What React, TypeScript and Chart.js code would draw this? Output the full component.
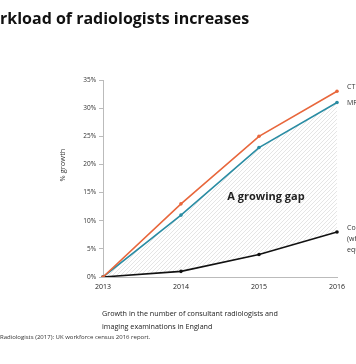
import React, { useEffect, useRef } from "react";
import { Chart, registerables } from "chart.js";

Chart.register(...registerables);

const years = ["2013", "2014", "2015", "2016"];
const ctGrowth = [0, 13, 25, 33];
const mriGrowth = [0, 11, 23, 31];
const consultantGrowth = [0, 1, 4, 8];
const yTicks = [0, 5, 10, 15, 20, 25, 30, 35];

const FONT = "'Open Sans', 'Liberation Sans', sans-serif";

function makeHatch(): CanvasPattern | string {
  const c = document.createElement("canvas");
  c.width = 4;
  c.height = 4;
  const g = c.getContext("2d");
  if (!g) return "#eee";
  g.fillStyle = "#ffffff";
  g.fillRect(0, 0, 4, 4);
  g.strokeStyle = "#dedede";
  g.lineWidth = 0.8;
  g.beginPath();
  g.moveTo(0, 4);
  g.lineTo(4, 0);
  g.moveTo(-1, 1);
  g.lineTo(1, -1);
  g.moveTo(3, 5);
  g.lineTo(5, 3);
  g.stroke();
  const p = g.createPattern(c, "repeat");
  return p || "#eee";
}

const textPlugin = {
  id: "annotText",
  afterDraw(chart: any) {
    const ctx = chart.ctx;
    ctx.save();
    ctx.fillStyle = "#111";
    ctx.textBaseline = "alphabetic";
    ctx.textAlign = "left";
    ctx.font = `bold 16px ${FONT}`;
    const title = "Workload of radiologists increases";
    const full = ctx.measureText(title).width;
    const rest = ctx.measureText("rkload of radiologists increases").width;
    ctx.fillText(title, 0 - (full - rest), 24);

    ctx.font = `bold 11px ${FONT}`;
    ctx.fillStyle = "#222";
    ctx.textAlign = "center";
    ctx.fillText("A growing gap", 266, 200);

    ctx.font = `7px ${FONT}`;
    ctx.fillStyle = "#333";
    ctx.textAlign = "left";
    const y = chart.scales.y;
    const x = chart.scales.x;
    const rx = x.getPixelForValue(3) + 10;
    ctx.fillText("CT", rx, y.getPixelForValue(ctGrowth[3]) - 2);
    ctx.fillText("MRI", rx, y.getPixelForValue(mriGrowth[3]) + 2);
    const cy = y.getPixelForValue(consultantGrowth[3]) - 2;
    ctx.fillText("Consultant radiologists", rx, cy);
    ctx.fillText("(whole-time", rx, cy + 11);
    ctx.fillText("equivalent)", rx, cy + 22);

    ctx.font = `7.2px ${FONT}`;
    ctx.fillStyle = "#222";
    ctx.fillText("Growth in the number of consultant radiologists and", 102, 316);
    ctx.fillText("imaging examinations in England", 102, 329);

    ctx.font = `6px ${FONT}`;
    ctx.fillStyle = "#333";
    ctx.fillText("Radiologists (2017): UK workforce census 2016 report.", 0, 339);

    ctx.translate(65, 165);
    ctx.rotate(-Math.PI / 2);
    ctx.textAlign = "center";
    ctx.font = `7.5px ${FONT}`;
    ctx.fillStyle = "#333";
    ctx.fillText("% growth", 0, 0);
    ctx.restore();
  },
};

export default function App() {
  const ref = useRef<HTMLCanvasElement | null>(null);
  useEffect(() => {
    document.body.style.margin = "0";
    if (!ref.current) return;
    const hatch = makeHatch();
    const chart = new Chart(ref.current, {
      type: "line",
      data: {
        labels: years,
        datasets: [
          {
            label: "CT",
            data: ctGrowth,
            borderColor: "#e8673c",
            backgroundColor: "#e8673c",
            borderWidth: 1.6,
            pointRadius: 1.8,
            pointBorderWidth: 0,
            fill: false,
          },
          {
            label: "MRI",
            data: mriGrowth,
            borderColor: "#2a8ca3",
            backgroundColor: hatch as any,
            pointBackgroundColor: "#2a8ca3",
            borderWidth: 1.6,
            pointRadius: 1.8,
            pointBorderWidth: 0,
            fill: "+1",
          },
          {
            label: "Consultant radiologists",
            data: consultantGrowth,
            borderColor: "#111111",
            backgroundColor: "#111111",
            borderWidth: 1.6,
            pointRadius: 1.8,
            pointBorderWidth: 0,
            fill: false,
          },
        ],
      },
      options: {
        animation: false,
        responsive: false,
        devicePixelRatio: 1,
        layout: { padding: { left: 0, right: 19, top: 80, bottom: 0 } },
        plugins: {
          legend: { display: false },
          tooltip: { enabled: false },
          filler: { drawTime: "beforeDatasetsDraw" } as any,
        },
        scales: {
          x: {
            type: "category",
            offset: false,
            grid: { display: true, drawOnChartArea: false, drawTicks: false },
            border: { display: true, color: "#bbbbbb", width: 1 },
            ticks: {
              padding: 6,
              color: "#222",
              font: { family: FONT, size: 7 },
              maxRotation: 0,
            },
            afterFit: (s: any) => {
              s.height = 87;
            },
          },
          y: {
            min: 0,
            max: 35,
            grid: {
              display: true,
              drawOnChartArea: false,
              drawTicks: true,
              tickLength: 4,
              color: "#bbbbbb",
            },
            border: { display: true, color: "#bbbbbb", width: 1 },
            afterBuildTicks: (s: any) => {
              s.ticks = yTicks.map((v) => ({ value: v }));
            },
            ticks: {
              padding: 3,
              color: "#333",
              font: { family: FONT, size: 6.5 },
              callback: (v: any) => `${v}%`,
            },
            afterFit: (s: any) => {
              s.width = 103;
            },
          },
        },
      },
      plugins: [textPlugin],
    });
    return () => chart.destroy();
  }, []);
  return (
    <div style={{ width: 356, height: 364, overflow: "hidden", position: "relative" }}>
      <canvas ref={ref} width={356} height={364} style={{ display: "block", width: 356, height: 364 }} />
    </div>
  );
}
